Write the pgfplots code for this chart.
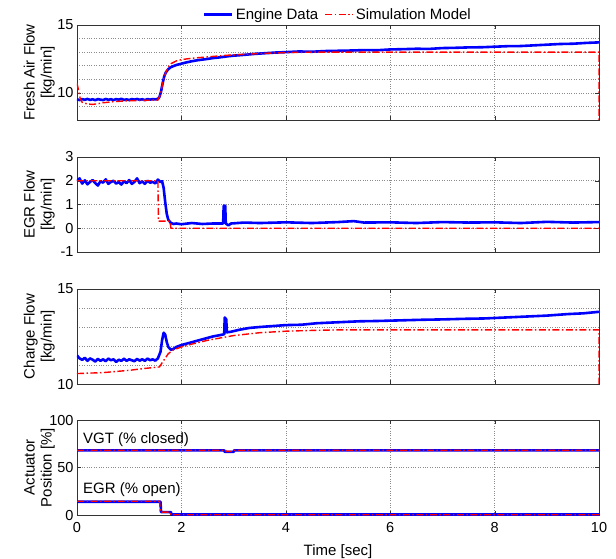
\documentclass[border=0pt]{standalone}
\usepackage{pgfplots}
\pgfplotsset{compat=1.18}
\usepackage{fontspec}
\setmainfont{Liberation Sans}

\pgfplotsset{
  panel/.style={
    width=522pt, height=95pt, scale only axis,
    xmin=0, xmax=10, xtick={0,2,...,10},
    grid=both,
    major grid style={dotted, black!45, line width=0.6pt},
    minor grid style={dotted, black!45, line width=0.6pt},
    major tick length=4pt, minor tick length=0pt,
    axis line style={black!80, line width=0.6pt},
    tick style={black!80},
    /pgf/number format/assume math mode=true,
    tick label style={font=\fontsize{14.5}{16}\selectfont},
    xticklabel style={yshift=-4pt},
    label style={font=\fontsize{15}{17}\selectfont},
    xlabel style={yshift=-5pt},
    ylabel style={align=center, at={(rel axis cs:0,0.5)}, anchor=south,
                  inner sep=0pt, yshift=22pt},
    legend image code/.code={\draw[#1] (0pt,0pt) -- (28pt,0pt);},
  },
  eng/.style={blue, line width=2.6pt, line join=round},
  sim/.style={red, line width=1.4pt, dash pattern=on 7pt off 2.5pt on 1.5pt off 2.5pt},
}

\begin{document}
\begin{tikzpicture}
\path[use as bounding box] (0,0) rectangle (616pt,-558pt);

% fresh air flow
\begin{axis}[panel, at={(77pt,-25pt)}, anchor=north west,
  ymin=8, ymax=15, ytick={10,15}, minor ytick={9,11,12,13,14},
  xticklabels={},
  ylabel={Fresh Air Flow\\{[kg/min]}},
  legend columns=2,
  legend style={at={(0.5,1)}, anchor=south, draw=none, fill=none,
    font=\fontsize{15}{17}\selectfont, inner sep=1pt, yshift=1pt,
    /tikz/every even column/.append style={column sep=4pt}},
]
\addplot[eng] coordinates {
(0,9.52) (0.05,9.47) (0.1,9.54) (0.15,9.49) (0.2,9.55) (0.25,9.48) (0.3,9.53)
(0.35,9.46) (0.4,9.54) (0.45,9.5) (0.5,9.47) (0.55,9.55) (0.6,9.49) (0.65,9.53)
(0.7,9.47) (0.75,9.54) (0.8,9.5) (0.85,9.56) (0.9,9.48) (0.95,9.52) (1.0,9.47)
(1.05,9.54) (1.1,9.5) (1.15,9.55) (1.2,9.49) (1.25,9.53) (1.3,9.47) (1.35,9.54)
(1.4,9.5) (1.45,9.54) (1.5,9.52) (1.55,9.56) (1.58,9.7) (1.61,10.1) (1.64,10.7)
(1.67,11.2) (1.7,11.5) (1.75,11.75) (1.8,11.9) (1.9,12.05) (2.0,12.15) (2.1,12.25)
(2.2,12.33) (2.3,12.4) (2.4,12.45) (2.5,12.5) (2.6,12.56) (2.7,12.6) (2.8,12.65)
(2.9,12.7) (3.0,12.74) (3.2,12.8) (3.4,12.87) (3.6,12.92) (3.8,12.97) (4.0,13.0)
(4.25,13.05) (4.5,13.03) (4.75,13.08) (5.0,13.1) (5.25,13.12) (5.5,13.15)
(5.75,13.14) (6.0,13.2) (6.25,13.22) (6.5,13.25) (6.75,13.24) (7.0,13.3)
(7.25,13.32) (7.5,13.35) (7.75,13.36) (8.0,13.4) (8.25,13.44) (8.5,13.45)
(8.75,13.5) (9.0,13.55) (9.25,13.6) (9.5,13.62) (9.75,13.68) (10,13.72)
};
\addlegendentry{Engine Data}
\addplot[sim] coordinates {
(0,10.7) (0.03,10.2) (0.06,9.6) (0.1,9.3) (0.2,9.18) (0.3,9.15) (0.4,9.2)
(0.5,9.27) (0.7,9.35) (0.9,9.4) (1.2,9.44) (1.55,9.47) (1.6,9.9) (1.65,10.9)
(1.7,11.5) (1.75,11.9) (1.8,12.15) (1.9,12.35) (2.0,12.45) (2.2,12.55)
(2.5,12.65) (2.8,12.75) (3.0,12.8) (3.5,12.9) (4.0,12.97) (4.5,13.0)
(10,13.0) (10,8)
};
\addlegendentry{Simulation Model}
\end{axis}

% EGR flow
\begin{axis}[panel, at={(77pt,-157pt)}, anchor=north west,
  ymin=-1, ymax=3, ytick={-1,0,1,2,3},
  xticklabels={},
  ylabel={EGR Flow\\{[kg/min]}},
]
\addplot[eng] coordinates {
(0,2.0) (0.05,2.1) (0.1,1.88) (0.15,2.02) (0.2,1.85) (0.25,1.95) (0.3,2.03)
(0.35,1.9) (0.4,1.8) (0.45,1.98) (0.5,1.92) (0.55,2.06) (0.6,1.87) (0.65,1.95)
(0.7,2.0) (0.75,1.88) (0.8,1.95) (0.85,1.84) (0.9,1.98) (0.95,1.9) (1.0,2.03)
(1.05,1.87) (1.1,1.95) (1.15,2.1) (1.2,1.9) (1.25,1.97) (1.3,1.87) (1.35,2.0)
(1.4,1.92) (1.45,1.95) (1.5,1.89) (1.55,2.05) (1.6,1.95) (1.63,1.98) (1.66,1.7)
(1.69,1.1) (1.72,0.6) (1.75,0.35) (1.8,0.22) (1.85,0.18) (1.9,0.2) (2.0,0.17)
(2.2,0.22) (2.4,0.18) (2.6,0.2) (2.8,0.2) (2.81,0.95) (2.84,0.95) (2.85,0.2)
(2.9,0.12) (2.95,0.2) (3.2,0.24) (3.5,0.22) (4,0.25) (4.5,0.22) (5,0.26)
(5.3,0.3) (5.5,0.24) (6,0.25) (6.5,0.22) (7,0.26) (7.5,0.24) (8,0.25)
(8.5,0.22) (9,0.27) (9.5,0.24) (10,0.26)
};
\addplot[sim] coordinates {
(0,2.0) (1.55,2.0) (1.56,0.3) (1.78,0.3) (1.8,0.0) (10,0.0)
};
\end{axis}

% charge flow
\begin{axis}[panel, at={(77pt,-289pt)}, anchor=north west,
  ymin=10, ymax=15, ytick={10,15}, minor ytick={11,12,13,14},
  xticklabels={},
  ylabel={Charge Flow\\{[kg/min]}},
]
\addplot[eng] coordinates {
(0,11.5) (0.05,11.35) (0.1,11.27) (0.15,11.38) (0.2,11.22) (0.25,11.35) (0.3,11.28)
(0.35,11.18) (0.4,11.32) (0.45,11.22) (0.5,11.3) (0.55,11.2) (0.6,11.34)
(0.65,11.25) (0.7,11.3) (0.75,11.16) (0.8,11.28) (0.85,11.22) (0.9,11.33)
(0.95,11.22) (1.0,11.3) (1.05,11.25) (1.1,11.2) (1.15,11.32) (1.2,11.23)
(1.25,11.3) (1.3,11.22) (1.35,11.34) (1.4,11.25) (1.45,11.3) (1.5,11.23)
(1.55,11.35) (1.6,11.7) (1.63,12.3) (1.66,12.7) (1.69,12.6) (1.72,12.2)
(1.75,11.95) (1.8,11.8) (1.85,11.85) (1.9,11.95) (2.0,12.05) (2.2,12.2)
(2.4,12.35) (2.6,12.5) (2.75,12.58) (2.82,12.62) (2.83,13.5) (2.86,13.4)
(2.87,12.72) (2.95,12.75) (3.1,12.85) (3.3,12.95) (3.5,13.0) (3.75,13.05)
(4.0,13.1) (4.3,13.12) (4.6,13.2) (5.0,13.25) (5.4,13.3) (5.8,13.32) (6.2,13.35)
(6.6,13.38) (7.0,13.4) (7.4,13.43) (7.8,13.45) (8.2,13.5) (8.6,13.55) (9.0,13.6)
(9.4,13.68) (9.7,13.72) (10,13.8)
};
\addplot[sim] coordinates {
(0,10.55) (0.5,10.6) (1.0,10.72) (1.3,10.82) (1.58,10.9) (1.65,11.2) (1.75,11.6)
(1.85,11.8) (2.0,11.95) (2.2,12.1) (2.5,12.3) (2.8,12.45) (3.0,12.55) (3.5,12.7)
(4.0,12.78) (4.5,12.82) (5.0,12.85) (10,12.85) (10,10)
};
\end{axis}

% actuator position
\begin{axis}[panel, at={(77pt,-420pt)}, anchor=north west,
  ymin=0, ymax=100, ytick={0,50,100},
  xlabel={Time [sec]},
  ylabel={Actuator\\Position [\%]},
]
\addplot[eng] coordinates {(0,68) (2.82,68) (2.83,66.5) (3.0,66.5) (3.01,68) (10,68)};
\addplot[eng] coordinates {(0,14) (1.6,14) (1.61,3) (1.8,3) (1.81,0.5) (10,0.5)};
\addplot[sim] coordinates {(0,68) (2.85,68) (2.86,67) (3.0,67) (3.01,68) (10,68)};
\addplot[sim] coordinates {(0,14.5) (1.58,14.5) (1.6,3) (1.78,3) (1.8,0.3) (10,0.3)};
\node[anchor=west, font=\fontsize{15}{17}\selectfont] at (axis cs:0.05,79) {VGT (\% closed)};
\node[anchor=west, font=\fontsize{15}{17}\selectfont] at (axis cs:0.05,27) {EGR (\% open)};
\end{axis}
\end{tikzpicture}
\end{document}
